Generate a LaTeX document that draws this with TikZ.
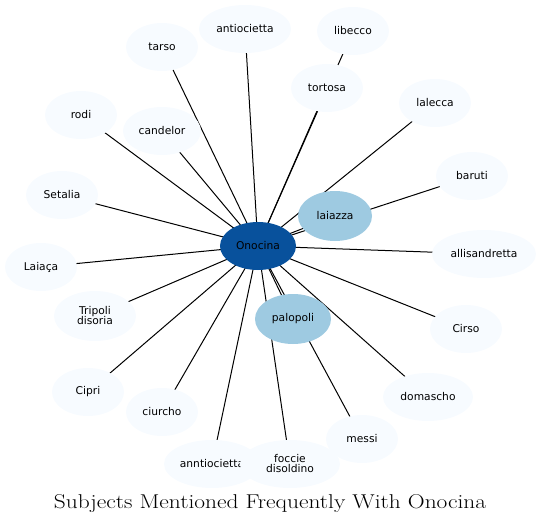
\documentclass[tikz,border=0pt]{standalone}
\usepackage{fontspec}
\newfontfamily\nodefont{DejaVu Sans}
\usetikzlibrary{shapes.geometric}
\definecolor{lightfill}{HTML}{F7FBFF}
\definecolor{midfill}{HTML}{9ECAE1}
\definecolor{darkfill}{HTML}{08519C}
\tikzset{
  ent/.style={ellipse, fill=lightfill, inner sep=0pt, minimum width=72pt, minimum height=48pt, font=\nodefont\fontsize{10.7}{12}\selectfont, align=center},
  hot/.style={ent, fill=midfill},
  hub/.style={ent, fill=darkfill},
  link/.style={line width=1pt, black},
}
\begin{document}
\begin{tikzpicture}[x=1pt,y=-1pt]
\useasboundingbox (0,0) rectangle (542,525);
\coordinate (cOn) at (258,246);
% edges first (behind nodes)
\foreach \p in {(162,47),(245,29),(353,31),(327,88),(435,103),(81,115),(162,131),(472,176),(62,195),(335,216),(41,267),(484,254),(95,316),(293,319),(466,329),(88,392),(428,397),(162,412),(362,439),(212,464),(290,464)}
  \draw[link] (cOn) -- \p;
\node[ent] (tarso) at (162,47) {tarso};
\node[ent, minimum width=92pt] (antiocietta) at (245,29) {antiocietta};
\node[ent] (libecco) at (353,31) {libecco};
\node[ent] (tortosa) at (327,88) {tortosa};
\node[ent] (lalecca) at (435,103) {lalecca};
\node[ent] (rodi) at (81,115) {rodi};
\node[ent, minimum width=78pt] (candelor) at (162,131) {candelor};
\node[ent] (baruti) at (472,176) {baruti};
\node[ent] (setalia) at (62,195) {Setalia};
\node[hot, minimum width=74pt, minimum height=50pt] (laiazza) at (335,216) {laiazza};
\node[hub, minimum width=76pt] (onocina) at (258,246) {Onocina};
\node[ent] (laiaca) at (41,267) {Laiaça};
\node[ent, minimum width=104pt] (allisandretta) at (484,254) {allisandretta};
\node[ent, minimum width=82pt, minimum height=50pt] (tripoli) at (95,316) {Tripoli\\[-2pt]disoria};
\node[hot, minimum width=76pt, minimum height=50pt] (palopoli) at (293,319) {palopoli};
\node[ent] (cirso) at (466,329) {Cirso};
\node[ent] (cipri) at (88,392) {Cipri};
\node[ent, minimum width=90pt] (domascho) at (428,397) {domascho};
\node[ent] (ciurcho) at (162,412) {ciurcho};
\node[ent] (messi) at (362,439) {messi};
\node[ent, minimum width=96pt] (anntiocietta) at (212,464) {anntiocietta};
\node[ent, minimum width=100pt] (foccie) at (290,464) {foccie\\[-2pt]disoldino};
\node[font=\fontsize{20}{24}\selectfont, xscale=1.17, transform shape] (title) at (270,504) {Subjects Mentioned Frequently With Onocina};
\end{tikzpicture}
\end{document}
